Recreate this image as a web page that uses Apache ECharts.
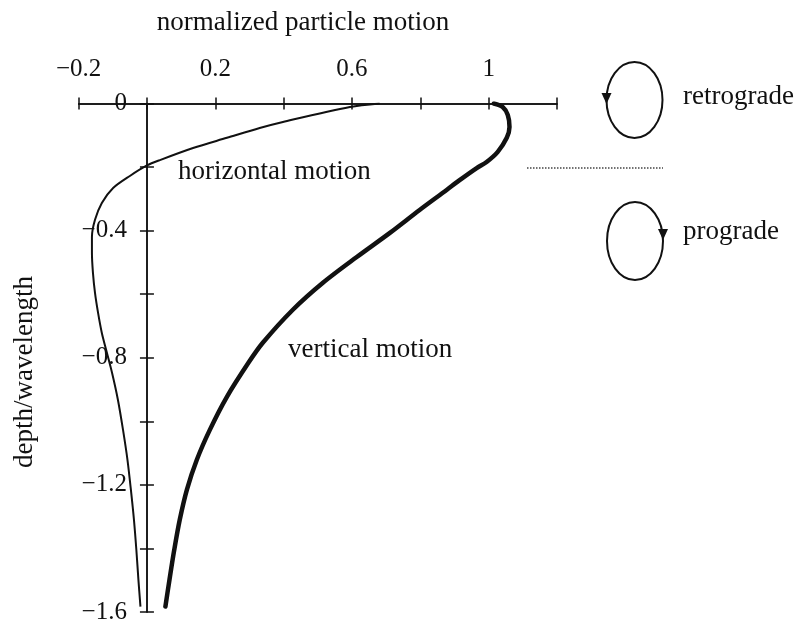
<!DOCTYPE html>
<html>
<head>
<meta charset="utf-8">
<script src="https://cdn.jsdelivr.net/npm/echarts@6/dist/echarts.min.js"></script>
<style>
  html, body { margin: 0; padding: 0; background: #fff; }
  #chart { width: 794px; height: 625px; }
</style>
</head>
<body>
<div id="chart"></div>
<script>
// Horizontal particle motion profile (thin curve)
const horizDepth  = [0, -0.011, -0.058, -0.077, -0.108, -0.140, -0.178, -0.195, -0.228, -0.266, -0.313, -0.366, -0.420, -0.470, -0.533, -0.596, -0.659, -0.722, -0.785, -0.848, -0.932, -1.027, -1.121, -1.215, -1.310, -1.404, -1.498, -1.583];
const horizMotion = [0.681, 0.594, 0.398, 0.330, 0.234, 0.135, 0.038, 0.000, -0.050, -0.099, -0.132, -0.152, -0.161, -0.161, -0.158, -0.152, -0.143, -0.132, -0.117, -0.102, -0.085, -0.070, -0.057, -0.047, -0.038, -0.031, -0.025, -0.019];

// Vertical particle motion profile (thick curve)
const vertDepth  = [0, -0.011, -0.036, -0.074, -0.108, -0.153, -0.184, -0.203, -0.241, -0.272, -0.335, -0.407, -0.483, -0.564, -0.649, -0.753, -0.816, -0.923, -1.027, -1.121, -1.215, -1.310, -1.404, -1.498, -1.583];
const vertMotion = [1.015, 1.041, 1.056, 1.061, 1.053, 1.026, 0.994, 0.965, 0.915, 0.877, 0.798, 0.711, 0.614, 0.515, 0.427, 0.339, 0.297, 0.234, 0.184, 0.146, 0.117, 0.096, 0.080, 0.066, 0.054];

// Labelled ticks
const xTickValues = [-0.2, 0.2, 0.6, 1];
const xTickText   = ['\u22120.2', '0.2', '0.6', '1'];
const yTickValues = [0, -0.4, -0.8, -1.2, -1.6];
const yTickText   = ['0', '\u22120.4', '\u22120.8', '\u22121.2', '\u22121.6'];

const FONT = '"Liberation Serif", "DejaVu Serif", serif';
const INK = '#111';

function pickLabel(values, texts) {
  return function (v) {
    for (let i = 0; i < values.length; i++) {
      if (Math.abs(values[i] - v) < 1e-6) return texts[i];
    }
    return '';
  };
}

function pairs(xs, ys) {
  return xs.map((x, i) => [x, ys[i]]);
}

const chart = echarts.init(document.getElementById('chart'), null, { renderer: 'canvas' });

const GRID_LEFT = 78.6;
const GRID_WIDTH = 478.4;
// the depth axis runs through motion = 0
const Y_AXIS_SHIFT = -(0.2 / 1.4) * GRID_WIDTH;

const axisLineStyle = { color: INK, width: 1.5 };
const labelStyle = { fontFamily: FONT, fontSize: 25, color: INK };

function xAxisDef(inside, withLabels) {
  return {
    type: 'value', position: 'top', min: -0.2, max: 1.2, interval: 0.2,
    axisLine: { show: true, onZero: false, lineStyle: axisLineStyle },
    axisTick: { show: true, inside: inside, length: 6, lineStyle: { color: INK, width: 1.5 } },
    axisLabel: withLabels
      ? Object.assign({ show: true, margin: 22, formatter: pickLabel(xTickValues, xTickText) }, labelStyle)
      : { show: false },
    splitLine: { show: false }
  };
}

function yAxisDef(inside, withLabels) {
  return {
    type: 'value', position: 'left', offset: Y_AXIS_SHIFT, min: -1.6, max: 0, interval: 0.2,
    axisLine: { show: true, onZero: false, lineStyle: axisLineStyle },
    axisTick: { show: true, inside: inside, length: 7, lineStyle: { color: INK, width: 1.5 } },
    axisLabel: withLabels
      ? Object.assign({ show: true, margin: 20, formatter: pickLabel(yTickValues, yTickText) }, labelStyle)
      : { show: false },
    splitLine: { show: false }
  };
}

chart.setOption({
  backgroundColor: '#fff',
  animation: false,
  grid: { left: GRID_LEFT, width: GRID_WIDTH, top: 103.5, bottom: 13, containLabel: false },
  xAxis: [xAxisDef(false, true), xAxisDef(true, false)],
  yAxis: [yAxisDef(false, true), yAxisDef(true, false)],
  series: [
    {
      name: 'horizontal motion', type: 'line', xAxisIndex: 0, yAxisIndex: 0,
      data: pairs(horizMotion, horizDepth), showSymbol: false, smooth: 0.3,
      lineStyle: { color: INK, width: 2 }
    },
    {
      name: 'vertical motion', type: 'line', xAxisIndex: 0, yAxisIndex: 0,
      data: pairs(vertMotion, vertDepth), showSymbol: false, smooth: 0.3,
      lineStyle: { color: INK, width: 4.5, cap: 'round' }
    }
  ],
  graphic: [
    { type: 'text', x: 303, y: 23, style: { text: 'normalized particle motion', font: '27px ' + FONT, fill: INK, align: 'center', verticalAlign: 'middle' } },
    { type: 'text', x: 25, y: 372, rotation: Math.PI / 2, style: { text: 'depth/wavelength', font: '27px ' + FONT, fill: INK, align: 'center', verticalAlign: 'middle' } },
    { type: 'text', x: 178, y: 172, style: { text: 'horizontal motion', font: '27px ' + FONT, fill: INK, align: 'left', verticalAlign: 'middle' } },
    { type: 'text', x: 288, y: 350, style: { text: 'vertical motion', font: '27px ' + FONT, fill: INK, align: 'left', verticalAlign: 'middle' } },

    // retrograde orbit key
    { type: 'ellipse', shape: { cx: 634.5, cy: 100, rx: 28, ry: 38 }, style: { fill: 'none', stroke: INK, lineWidth: 2 } },
    { type: 'polygon', shape: { points: [[601.5, 93], [611.5, 93], [606.5, 104]] }, style: { fill: INK } },
    { type: 'text', x: 683, y: 97, style: { text: 'retrograde', font: '27px ' + FONT, fill: INK, align: 'left', verticalAlign: 'middle' } },

    // separator
    { type: 'line', shape: { x1: 527, y1: 168, x2: 663, y2: 168 }, style: { stroke: '#444', lineWidth: 1.5, lineDash: [1.5, 1.5] } },

    // prograde orbit key
    { type: 'ellipse', shape: { cx: 635, cy: 241, rx: 28, ry: 39 }, style: { fill: 'none', stroke: INK, lineWidth: 2 } },
    { type: 'polygon', shape: { points: [[658, 229], [668, 229], [663, 240]] }, style: { fill: INK } },
    { type: 'text', x: 683, y: 232, style: { text: 'prograde', font: '27px ' + FONT, fill: INK, align: 'left', verticalAlign: 'middle' } }
  ]
});
</script>
</body>
</html>
